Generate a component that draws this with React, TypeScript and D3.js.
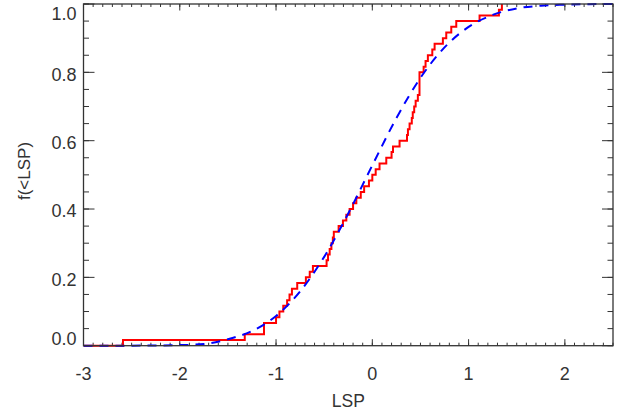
import React from "react";
import * as d3 from "d3";

const lspSamples: number[] = [
  -2.59, -1.325, -1.125, -1.125, -1.0, -0.965, -0.925, -0.885, -0.86, -0.835,
  -0.78, -0.69, -0.65, -0.617, -0.475, -0.46, -0.443, -0.425, -0.41, -0.4,
  -0.35, -0.305, -0.27, -0.236, -0.2, -0.166, -0.12, -0.085, -0.035, 0.0,
  0.035, 0.075, 0.145, 0.2, 0.215, 0.283, 0.36, 0.37, 0.387, 0.41,
  0.42, 0.435, 0.45, 0.473, 0.49, 0.49, 0.49, 0.49, 0.533, 0.553,
  0.577, 0.623, 0.647, 0.733, 0.768, 0.82, 0.872, 1.114, 1.315, 1.346,
];

// Model cumulative curve (blue dashed)
const modelX: number[] = [
  -3.0, -2.5, -2.0, -1.75, -1.5, -1.25, -1.0, -0.75, -0.5, -0.25,
  0.0, 0.25, 0.5, 0.75, 1.0, 1.25, 1.5, 1.75, 2.0, 2.25, 2.5,
];
const modelF: number[] = [
  0.0, 0.0002, 0.0017, 0.005, 0.019, 0.043, 0.087, 0.159, 0.26, 0.387,
  0.528, 0.666, 0.784, 0.873, 0.933, 0.968, 0.987, 0.995, 0.998, 0.9995, 1.0,
];

const xMajorTicks: number[] = [-3, -2, -1, 0, 1, 2];
const xTickLabels: string[] = ["-3", "-2", "-1", "0", "1", "2"];
const yMajorTicks: number[] = [0, 0.2, 0.4, 0.6, 0.8, 1.0];
const yTickLabels: string[] = ["0.0", "0.2", "0.4", "0.6", "0.8", "1.0"];

const xTitle = "LSP";
const yTitle = "f(<LSP)";

const W = 626;
const H = 415;
const left = 83.5;
const right = 613;
const top = 4;
const bottom = 345.7;

const FONT = "'Liberation Sans', Arial, Helvetica, sans-serif";
const AX = "#333";

export default function App() {
  const x = d3.scaleLinear().domain([-3, 2.5]).range([left, right]);
  const y = d3.scaleLinear().domain([0, 1]).range([bottom, top]);

  const xMinor = d3.range(-30, 26).map((i) => i / 10);
  const yMinor = d3.range(0, 21).map((i) => i / 20);

  const n = lspSamples.length;
  const stepPts: [number, number][] = [[-3, 0], ...lspSamples.map((v, i) => [v, (i + 1) / n] as [number, number])];
  const stepLine = d3
    .line<[number, number]>()
    .x((d) => x(d[0]))
    .y((d) => y(d[1]))
    .curve(d3.curveStepAfter);

  const modelLine = d3
    .line<number>()
    .x((_, i) => x(modelX[i]))
    .y((d) => y(d))
    .curve(d3.curveMonotoneX);

  const labelY = (v: number) => {
    const c = Math.min(339, Math.max(13.7, y(v) + 2));
    return c + 6.4;
  };

  return (
    <svg width={W} height={H} style={{ position: "absolute", left: 0, top: 0, background: "#fff" }}>
      <rect x={0} y={0} width={W} height={H} fill="#fff" />
      <defs>
        <clipPath id="plotclip">
          <rect x={left} y={top - 2} width={right - left} height={bottom - top + 4} />
        </clipPath>
      </defs>

      {/* minor ticks */}
      <g stroke={AX} strokeWidth={1}>
        {xMinor.map((v, i) => (
          <g key={"xm" + i}>
            <line x1={x(v)} x2={x(v)} y1={bottom} y2={bottom - 3} />
            <line x1={x(v)} x2={x(v)} y1={top} y2={top + 3} />
          </g>
        ))}
        {xMajorTicks.map((v, i) => (
          <g key={"xM" + i}>
            <line x1={x(v)} x2={x(v)} y1={bottom} y2={bottom - 6.5} />
            <line x1={x(v)} x2={x(v)} y1={top} y2={top + 6.5} />
          </g>
        ))}
        {yMinor.map((v, i) => (
          <g key={"ym" + i}>
            <line x1={left} x2={left + 5.5} y1={y(v)} y2={y(v)} />
            <line x1={right} x2={right - 5.5} y1={y(v)} y2={y(v)} />
          </g>
        ))}
        {yMajorTicks.map((v, i) => (
          <g key={"yM" + i}>
            <line x1={left} x2={left + 11} y1={y(v)} y2={y(v)} />
            <line x1={right} x2={right - 11} y1={y(v)} y2={y(v)} />
          </g>
        ))}
      </g>

      {/* data */}
      <g clipPath="url(#plotclip)">
        <path d={stepLine(stepPts) || ""} fill="none" stroke="#ff0000" strokeWidth={2} />
        <path
          d={modelLine(modelF) || ""}
          fill="none"
          stroke="#0000ff"
          strokeWidth={2}
          strokeDasharray="9,7"
        />
      </g>

      {/* frame */}
      <rect
        x={left}
        y={top}
        width={right - left}
        height={bottom - top}
        fill="none"
        stroke={AX}
        strokeWidth={1.3}
      />

      {/* tick labels */}
      <g fontFamily={FONT} fontSize={18} fill="#333">
        {xMajorTicks.map((v, i) => (
          <text key={"xl" + i} x={x(v)} y={380} textAnchor="middle">
            {xTickLabels[i]}
          </text>
        ))}
        {yMajorTicks.map((v, i) => (
          <text key={"yl" + i} x={76.5} y={labelY(v)} textAnchor="end">
            {yTickLabels[i]}
          </text>
        ))}
      </g>

      <text x={348.3} y={406.5} textAnchor="middle" fontFamily={FONT} fontSize={17.5} fill="#333">
        {xTitle}
      </text>
      <text
        transform="translate(29.5,171) rotate(-90)"
        textAnchor="middle"
        fontFamily={FONT}
        fontSize={17}
        fill="#333"
      >
        {yTitle}
      </text>
    </svg>
  );
}
